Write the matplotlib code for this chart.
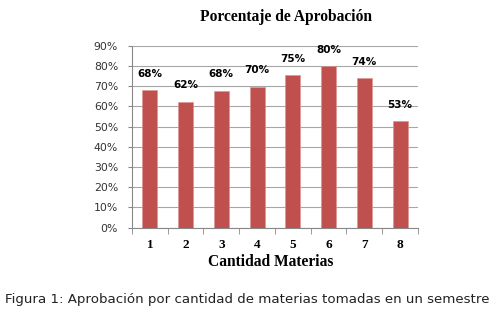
import matplotlib.pyplot as plt
from matplotlib.ticker import PercentFormatter, FixedLocator

materias = ['1', '2', '3', '4', '5', '6', '7', '8']
aprobacion = [68.1, 62.4, 67.8, 69.8, 75.4, 80.1, 74.2, 52.7]
yticks = [0, 10, 20, 30, 40, 50, 60, 70, 80, 90]

fig = plt.figure(figsize=(4.99, 3.14), dpi=100)
ax = fig.add_axes([0.2645, 0.2748, 0.573, 0.5797])

x = list(range(len(materias)))
bars = ax.bar(x, aprobacion, width=0.42, color='#C0504D', edgecolor='#D99694', linewidth=0.5, zorder=3)

for xi, v in zip(x, aprobacion):
    ax.annotate(f'{v:.0f}%', (xi, v), xytext=(0, 8), textcoords='offset points',
                ha='center', va='bottom', fontsize=7.5, fontweight='bold', color='black')

ax.set_xlim(-0.5, len(materias) - 0.5)
ax.set_ylim(0, 90)
ax.set_yticks(yticks)
ax.yaxis.set_major_formatter(PercentFormatter(decimals=0))
ax.grid(axis='y', color='#A6A6A6', linewidth=0.8, zorder=0)

ax.set_xticks(x)
ax.set_xticklabels(materias, fontfamily='Liberation Serif', fontweight='bold', fontsize=9.5)
ax.tick_params(axis='x', length=0, pad=8)
ax.xaxis.set_minor_locator(FixedLocator([i - 0.5 for i in range(len(materias) + 1)]))
ax.tick_params(axis='x', which='minor', length=4, color='#888888')
ax.tick_params(axis='y', length=3, color='#888888', labelsize=7.8, labelcolor='#333333', pad=7)

for s in ['top', 'right']:
    ax.spines[s].set_visible(False)
for s in ['left', 'bottom']:
    ax.spines[s].set_color('#888888')

ax.set_title('Porcentaje de Aprobación', fontfamily='Liberation Serif', fontweight='bold',
             fontsize=11.2, pad=18, x=0.537)
ax.set_xlabel('Cantidad Materias', fontfamily='Liberation Serif', fontweight='bold',
              fontsize=11.2, labelpad=2, x=0.486)

fig.text(5 / 499, 1 - 300 / 314, 'Figura 1: Aprobación por cantidad de materias tomadas en un semestre',
         fontsize=9.6, va='center', ha='left', color='#222222')

fig.savefig('out.png', dpi=100)
